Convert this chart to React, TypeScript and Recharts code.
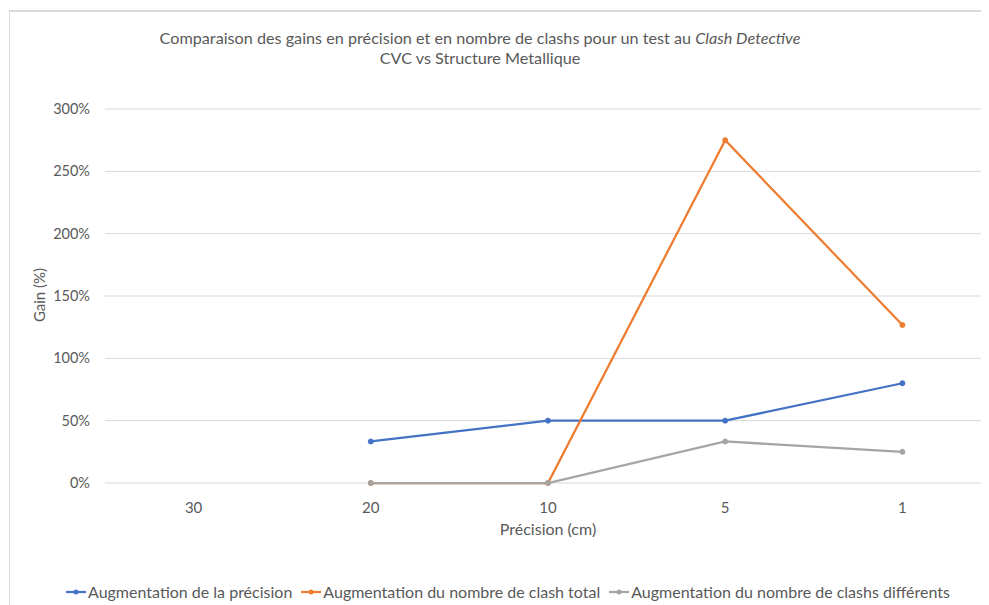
import React from 'react';
import { ComposedChart, Line, XAxis, YAxis, CartesianGrid } from 'recharts';

const categories = ['30', '20', '10', '5', '1'];
const precisionGain = [null, 33.3, 50, 50, 80];
const totalClashGain = [null, 0, 0, 275, 126.7];
const distinctClashGain = [null, 0, 0, 33.3, 25];
const yTicks = [0, 50, 100, 150, 200, 250, 300];

const seriesInfo = [
  { key: 'precision', name: 'Augmentation de la précision', color: '#4472C4' },
  { key: 'total', name: 'Augmentation du nombre de clash total', color: '#ED7D31' },
  { key: 'distinct', name: 'Augmentation du nombre de clashs différents', color: '#A5A5A5' },
];

const data = categories.map((c, i) => ({
  cat: c,
  precision: precisionGain[i],
  total: totalClashGain[i],
  distinct: distinctClashGain[i],
}));

const FONT = 'Lato, "Open Sans", sans-serif';
const TEXT = '#595959';
const FS = 16;

const LegendContent = () => (
  <div style={{ display: 'flex', alignItems: 'center', fontFamily: FONT, fontSize: FS, color: TEXT, whiteSpace: 'nowrap' }}>
    {seriesInfo.map((s, i) => (
      <div key={s.key} style={{ display: 'flex', alignItems: 'center', marginRight: i < 2 ? 8 : 0 }}>
        <svg width={22} height={10} style={{ marginRight: 1 }}>
          <line x1={1} y1={5} x2={21} y2={5} stroke={s.color} strokeWidth={2.25} />
          <circle cx={11} cy={5} r={2.5} fill={s.color} />
        </svg>
        <span>{s.name}</span>
      </div>
    ))}
  </div>
);

export default function App() {
  return (
    <div style={{ position: 'relative', width: 981, height: 597, overflow: 'hidden', background: '#fff' }}>
      <div style={{ position: 'absolute', left: 1, top: 2, width: 1200, height: 800, borderLeft: '1px solid #d9d9d9', borderTop: '2px solid #d9d9d9', boxSizing: 'border-box' }} />
      <div style={{ position: 'absolute', left: 0, top: 20, width: 944, textAlign: 'center', fontFamily: FONT, fontSize: 16.2, color: TEXT, lineHeight: '20px' }}>
        <div>Comparaison des gains en précision et en nombre de clashs pour un test au <i>Clash Detective</i></div>
        <div>CVC vs Structure Metallique</div>
      </div>
      <div style={{ position: 'absolute', left: 31, top: 287, width: 0, height: 0 }}>
        <div style={{ position: 'absolute', transform: 'translate(-50%, -50%) rotate(-90deg)', fontFamily: FONT, fontSize: 15, color: TEXT, whiteSpace: 'nowrap' }}>Gain (%)</div>
      </div>
      <div style={{ position: 'absolute', left: 440, top: 511, width: 200, textAlign: 'center', fontFamily: FONT, fontSize: FS, color: TEXT }}>Précision (cm)</div>
      <div style={{ position: 'absolute', left: 57, top: 574 }}>
        <LegendContent />
      </div>
      <div style={{ position: 'absolute', left: 0, top: 0 }}>
        <ComposedChart width={983} height={597} data={data} margin={{ top: 101, right: 0, left: 0, bottom: 92 }}>
          <CartesianGrid vertical={false} stroke="#d9d9d9" strokeWidth={1} />
          <XAxis dataKey="cat" scale="band" height={30} axisLine={false} tickLine={false} tickSize={0} tickMargin={19}
            tick={{ fill: TEXT, fontSize: 15, fontFamily: FONT }} interval={0} />
          <YAxis width={97} domain={[0, 300]} ticks={yTicks} axisLine={false} tickLine={false} tickSize={0} tickMargin={15}
            tickFormatter={(v: number) => `${v}%`} tick={{ fill: TEXT, fontSize: 14.5, fontFamily: FONT }} />
          {seriesInfo.map((s) => (
            <Line key={s.key} type="linear" dataKey={s.key} name={s.name} stroke={s.color} strokeWidth={2.25}
              dot={{ r: 2.5, fill: s.color, stroke: s.color, strokeWidth: 1 }} activeDot={false} isAnimationActive={false} connectNulls={false} />
          ))}
        </ComposedChart>
      </div>
    </div>
  );
}
